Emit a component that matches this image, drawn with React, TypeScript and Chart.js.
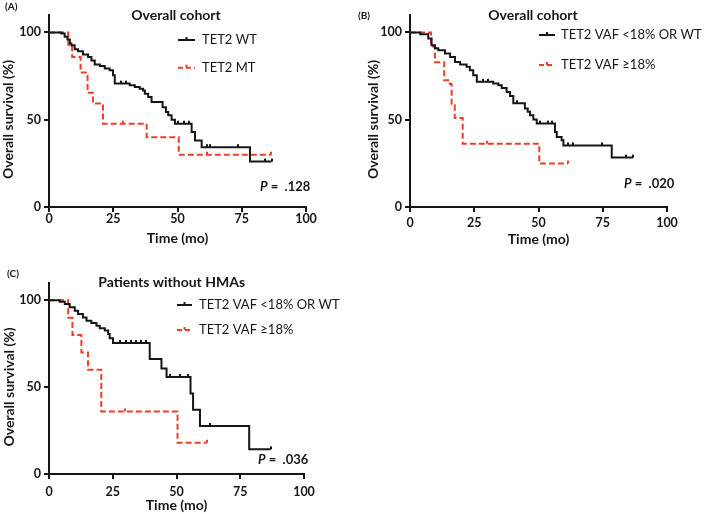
import React, { useEffect, useRef } from 'react';
import { Chart, registerables } from 'chart.js';

Chart.register(...registerables);

const FONT = 'Lato, "Open Sans", "DejaVu Sans", sans-serif';
const INK = '#161616';
const RED = '#e8402a';

const xTickValues = [0, 25, 50, 75, 100];
const yTickValues = [0, 50, 100];

// ---------- Panel A : Overall cohort, TET2 WT vs MT ----------
const aWtTime = [0, 4.8, 6.1, 7.2, 8.1, 8.7, 10, 11.3, 13.2, 15.2, 16.5, 17.8, 19.8, 21.7, 23.6, 24.9, 25.6, 31.4, 33.4, 35.3, 36.6, 37.3, 38.6, 39.9, 44.2, 45.5, 46.4, 47.7, 49, 55.5, 56.8, 59.4, 78.2, 86.6];
const aWtSurv = [100, 99.4, 97.5, 96, 93.7, 92.7, 90.4, 89.3, 87.3, 86, 84, 81.6, 80.8, 79.3, 78.3, 75.5, 70.7, 69.7, 68.7, 67.8, 66.8, 64.9, 63, 60.1, 57.2, 54.4, 52.5, 50, 47.7, 42.9, 38.1, 34.3, 26, 26];
const aWtCensor = [28, 30, 50.3, 52.5, 54.5, 61.3, 62.6, 73.6, 84, 86.6];

const aMtTime = [0, 7.5, 9, 12.3, 15, 17.1, 21, 38, 50.5, 86.5];
const aMtSurv = [100, 93, 86, 77, 65.5, 59.3, 47.7, 40, 30, 30];
const aMtCensor = [28.8, 61.3, 86.5];

// ---------- Panel B : Overall cohort, VAF split ----------
const bLowTime = [0, 4, 7.1, 8.4, 9.7, 11, 13.6, 15.6, 17.5, 19.5, 22, 23.3, 24.6, 26, 32.4, 34.4, 35.7, 37.6, 38.9, 40.2, 44.7, 45.8, 46.7, 48, 49.3, 56.4, 57.1, 59, 59.7, 78.5, 86.8];
const bLowSurv = [100, 99, 96.6, 92.7, 91, 89.8, 87.9, 86, 83.1, 81.6, 80.3, 78.4, 75.5, 71.7, 70.7, 69.8, 68.2, 65.9, 63.6, 59.5, 56.4, 54.5, 52.6, 50.1, 47.8, 43, 40.1, 38.2, 35.3, 28.3, 28.3];
const bLowCensor = [28.5, 30.5, 41.5, 50.6, 53.8, 55.1, 61.4, 63.3, 74.6, 84, 86.8];

const bHighTime = [0, 8.2, 9.7, 13.3, 15.5, 16.2, 17.4, 20.5, 50.3, 61.5];
const bHighSurv = [100, 92, 83, 72.6, 70.5, 58.5, 51, 36.3, 24.9, 24.9];
const bHighCensor = [29.8, 61.5];

// ---------- Panel C : Patients without HMAs ----------
const cLowTime = [0, 4.2, 6.2, 8.1, 10.1, 11.4, 13.3, 14.7, 16.6, 18.6, 19.9, 21.9, 23.2, 23.8, 25.1, 39.5, 44.1, 46.1, 55.5, 56.5, 59.2, 78.5, 86.9];
const cLowSurv = [100, 99.2, 97.9, 96, 94, 92.2, 90.2, 88.3, 87, 85.4, 83.9, 82.6, 80.6, 78.2, 75.5, 66.3, 60.7, 55.9, 46.4, 37, 27.7, 14.2, 14.2];
const cLowCensor = [28, 30, 32, 34, 36, 38, 47.4, 51.3, 54.6, 63.1, 86.9];

const cHighTime = [0, 7.5, 9.2, 12.7, 15.3, 20.5, 50.4, 61.8];
const cHighSurv = [100, 90, 80, 70, 60, 36, 18, 18];
const cHighCensor = [29.7, 61.8];

const legendWt = 'TET2 WT';
const legendMt = 'TET2 MT';
const legendLow = 'TET2 VAF <18% OR WT';
const legendHigh = 'TET2 VAF \u226518%';

type Series = { name: string; time: number[]; surv: number[]; censor: number[]; color: string; dash: number[] };

type PanelCfg = {
  left: number; top: number; width: number; height: number;
  padTop: number; padRight: number; yWidth: number; xHeight: number;
  xTickPad: number; xTitlePad: number;
  label: string; labelX: number; labelY: number;
  title: string; titleX: number; titleY: number;
  yTitleX: number; yTitleY: number;
  legLine: [number, number]; legTextX: number; legY: [number, number];
  pValue: string; pX: number; pY: number;
  series: Series[];
};

const panels: PanelCfg[] = [
  {
    left: 0, top: 0, width: 355, height: 250,
    padTop: 15, padRight: 49, yWidth: 49, xHeight: 43, xTickPad: -1, xTitlePad: 3,
    label: '(A)', labelX: 5, labelY: 7,
    title: 'Overall cohort', titleX: 176, titleY: 15,
    yTitleX: 8.5, yTitleY: 119.5,
    legLine: [178, 195], legTextX: 202, legY: [40, 67.7],
    pValue: '.128', pX: 260, pY: 187,
    series: [
      { name: legendWt, time: aWtTime, surv: aWtSurv, censor: aWtCensor, color: INK, dash: [] },
      { name: legendMt, time: aMtTime, surv: aMtSurv, censor: aMtCensor, color: RED, dash: [6, 3] },
    ],
  },
  {
    left: 355, top: 0, width: 354, height: 250,
    padTop: 15, padRight: 42, yWidth: 55, xHeight: 43, xTickPad: 3, xTitlePad: 2,
    label: '(B)', labelX: 3, labelY: 15.5,
    title: 'Overall cohort', titleX: 178, titleY: 15,
    yTitleX: 18.3, yTitleY: 119.5,
    legLine: [184, 200], legTextX: 206, legY: [35, 65],
    pValue: '.020', pX: 269, pY: 184,
    series: [
      { name: legendLow, time: bLowTime, surv: bLowSurv, censor: bLowCensor, color: INK, dash: [] },
      { name: legendHigh, time: bHighTime, surv: bHighSurv, censor: bHighCensor, color: RED, dash: [6, 3] },
    ],
  },
  {
    left: 0, top: 250, width: 355, height: 264,
    padTop: 33, padRight: 51, yWidth: 49, xHeight: 40, xTickPad: 5, xTitlePad: 0,
    label: '(C)', labelX: 7, labelY: 24,
    title: 'Patients without HMAs', titleX: 171.7, titleY: 32.5,
    yTitleX: 9.2, yTitleY: 137,
    legLine: [177, 192], legTextX: 199, legY: [55, 80],
    pValue: '.036', pX: 258, pY: 210,
    series: [
      { name: legendLow, time: cLowTime, surv: cLowSurv, censor: cLowCensor, color: INK, dash: [] },
      { name: legendHigh, time: cHighTime, surv: cHighSurv, censor: cHighCensor, color: RED, dash: [6, 3] },
    ],
  },
];

function survAt(time: number[], surv: number[], t: number): number {
  let s = surv[0];
  for (let i = 0; i < time.length; i++) if (time[i] <= t) s = surv[i];
  return s;
}

function tickImage(color: string): HTMLCanvasElement {
  const c = document.createElement('canvas');
  c.width = 2;
  c.height = 12;
  const g = c.getContext('2d')!;
  g.fillStyle = color;
  g.fillRect(0, 3, 2, 3);
  return c;
}

function textPlugin(cfg: PanelCfg) {
  return {
    id: 'panelText',
    afterDraw(chart: any) {
      const ctx: CanvasRenderingContext2D = chart.ctx;
      ctx.save();
      ctx.fillStyle = INK;
      ctx.textBaseline = 'middle';
      ctx.textAlign = 'left';
      ctx.font = `bold 10px ${FONT}`;
      ctx.fillText(cfg.label, cfg.labelX, cfg.labelY);
      ctx.textAlign = 'center';
      ctx.font = `bold 14px ${FONT}`;
      ctx.fillText(cfg.title, cfg.titleX, cfg.titleY);
      ctx.save();
      ctx.translate(cfg.yTitleX, cfg.yTitleY);
      ctx.rotate(-Math.PI / 2);
      ctx.font = `bold 14px ${FONT}`;
      ctx.fillText('Overall survival (%)', 0, 0);
      ctx.restore();
      cfg.series.forEach((s, i) => {
        const y = cfg.legY[i];
        const [x1, x2] = cfg.legLine;
        ctx.strokeStyle = s.color;
        ctx.lineWidth = 2;
        ctx.setLineDash(s.dash.length ? [5, 3] : []);
        ctx.beginPath();
        ctx.moveTo(x1, y);
        ctx.lineTo(x2, y);
        ctx.stroke();
        ctx.setLineDash([]);
        ctx.fillStyle = s.color;
        ctx.fillRect((x1 + x2) / 2 - 1, y - 3, 2, 3);
        ctx.fillStyle = INK;
        ctx.textAlign = 'left';
        ctx.font = `13px ${FONT}`;
        ctx.fillText(s.name, cfg.legTextX, y);
      });
      ctx.font = `italic bold 13px ${FONT}`;
      ctx.fillText('P', cfg.pX, cfg.pY);
      const w = ctx.measureText('P').width;
      ctx.font = `bold 13px ${FONT}`;
      ctx.fillText(' =  ' + cfg.pValue, cfg.pX + w, cfg.pY);
      ctx.restore();
    },
  };
}

function Panel({ cfg }: { cfg: PanelCfg }) {
  const ref = useRef<HTMLCanvasElement>(null);
  useEffect(() => {
    if (!ref.current) return;
    const lineSets = cfg.series.map((s) => ({
      label: s.name,
      data: s.time.map((t, i) => ({ x: t, y: s.surv[i] })),
      stepped: 'before' as const,
      borderColor: s.color,
      borderWidth: 2,
      borderDash: s.dash,
      borderCapStyle: 'butt' as const,
      borderJoinStyle: 'miter' as const,
      pointRadius: 0,
      fill: false,
      tension: 0,
    }));
    const censorSets = cfg.series.map((s) => ({
      label: s.name + ' censored',
      data: s.censor.map((t) => ({ x: t, y: survAt(s.time, s.surv, t) })),
      showLine: false,
      pointStyle: tickImage(s.color),
      pointRadius: 4,
      borderWidth: 0,
    }));
    const tickFont = { family: FONT, size: 12.5, weight: 'bold' as const };
    const chart = new Chart(ref.current, {
      type: 'line',
      data: { datasets: [...lineSets, ...censorSets] as any },
      plugins: [textPlugin(cfg)],
      options: {
        animation: false,
        responsive: false,
        devicePixelRatio: 1,
        layout: { padding: { top: cfg.padTop, right: cfg.padRight, bottom: 0, left: 0 } },
        plugins: { legend: { display: false }, tooltip: { enabled: false } },
        scales: {
          x: {
            type: 'linear',
            min: 0,
            max: 100,
            afterBuildTicks: (scale: any) => { scale.ticks = xTickValues.map((v) => ({ value: v })); },
            afterFit: (scale: any) => { scale.height = cfg.xHeight; },
            ticks: { font: tickFont, color: INK, padding: cfg.xTickPad, maxRotation: 0 },
            grid: { drawOnChartArea: false, drawTicks: true, tickLength: 5, color: INK, lineWidth: 2 },
            border: { display: true, color: INK, width: 2 },
            title: { display: true, text: 'Time (mo)', color: INK, font: { family: FONT, size: 14, weight: 'bold' }, padding: { top: 0, bottom: cfg.xTitlePad } },
          },
          y: {
            type: 'linear',
            min: 0,
            max: 110,
            afterBuildTicks: (scale: any) => { scale.ticks = yTickValues.map((v) => ({ value: v })); },
            afterFit: (scale: any) => { scale.width = cfg.yWidth; },
            ticks: { font: tickFont, color: INK, padding: 3 },
            grid: { drawOnChartArea: false, drawTicks: true, tickLength: 5, color: INK, lineWidth: 2 },
            border: { display: true, color: INK, width: 2 },
          },
        },
      },
    });
    return () => chart.destroy();
  }, [cfg]);
  return (
    <canvas
      ref={ref}
      width={cfg.width}
      height={cfg.height}
      style={{ position: 'absolute', left: cfg.left, top: cfg.top, width: cfg.width, height: cfg.height }}
    />
  );
}

export default function App() {
  return (
    <div style={{ position: 'absolute', left: 0, top: 0, width: 709, height: 514, background: '#fff', overflow: 'hidden' }}>
      {panels.map((p, i) => (
        <Panel key={i} cfg={p} />
      ))}
    </div>
  );
}
